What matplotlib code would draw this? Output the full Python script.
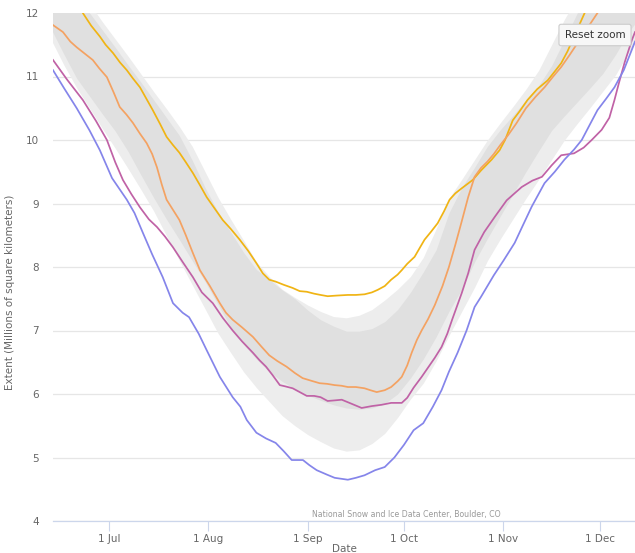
import matplotlib

matplotlib.use("Agg")

import matplotlib.pyplot as plt
from matplotlib.ticker import FixedLocator

# day of year for each point (2019 calendar, no leap day)
band_days = [164, 168, 172, 176, 180, 184, 188, 192, 196, 200, 204, 208, 212,
             216, 220, 224, 228, 232, 236, 240, 244, 248, 252, 256, 260, 264,
             268, 272, 276, 280, 284, 288, 292, 296, 300, 304, 308, 312, 316,
             320, 324, 328, 332, 336, 340, 344, 347]

# interdecile range (outer band)
decile_hi = [12.9, 12.65, 12.4, 12.15, 11.86, 11.59, 11.32, 11.04, 10.76, 10.49,
             10.21, 9.9, 9.5, 9.1, 8.75, 8.42, 8.08, 7.85, 7.65, 7.52, 7.4, 7.3,
             7.22, 7.2, 7.24, 7.33, 7.48, 7.65, 7.85, 8.15, 8.6, 9.08, 9.38, 9.69,
             10.0, 10.27, 10.53, 10.8, 11.1, 11.5, 11.9, 12.25, 12.55, 12.8, 13.0,
             13.2, 13.3]
decile_lo = [11.58, 11.18, 10.82, 10.5, 10.18, 9.87, 9.55, 9.22, 8.88, 8.49, 8.1,
             7.72, 7.34, 6.96, 6.65, 6.35, 6.1, 5.88, 5.66, 5.5, 5.36, 5.25, 5.15,
             5.1, 5.12, 5.22, 5.38, 5.63, 5.92, 6.17, 6.52, 6.92, 7.3, 7.68, 8.1,
             8.44, 8.76, 9.08, 9.38, 9.69, 10.0, 10.26, 10.51, 10.77, 11.03, 11.38,
             11.6]

# interquartile range (inner band)
quart_hi = [12.8, 12.55, 12.28, 12.0, 11.73, 11.46, 11.18, 10.91, 10.63, 10.35,
            10.07, 9.68, 9.25, 8.87, 8.55, 8.23, 7.96, 7.8, 7.64, 7.5, 7.32, 7.17,
            7.07, 6.99, 6.99, 7.03, 7.14, 7.33, 7.6, 7.92, 8.27, 8.85, 9.25, 9.57,
            9.9, 10.16, 10.39, 10.63, 10.86, 11.17, 11.58, 12.0, 12.3, 12.6, 12.85,
            13.05, 13.2]
quart_lo = [11.75, 11.35, 10.97, 10.69, 10.41, 10.14, 9.82, 9.45, 9.09, 8.75, 8.43,
            8.1, 7.77, 7.41, 7.05, 6.78, 6.55, 6.35, 6.2, 6.08, 5.98, 5.9, 5.83,
            5.78, 5.76, 5.78, 5.85, 6.0, 6.25, 6.55, 6.9, 7.3, 7.65, 8.08, 8.45,
            8.8, 9.15, 9.5, 9.83, 10.15, 10.38, 10.6, 10.82, 11.05, 11.35, 11.7,
            11.9]

yellow_days = [164.6, 170, 173.9, 176.5, 179.2, 181, 183.3, 185.5, 187.6, 189.5,
               191.7, 193.7, 195.7, 198, 200, 202, 204, 206, 208.2, 210.5, 212.5,
               215, 217.5, 220, 222.8, 225.5, 228, 230, 232, 234, 236.5, 239.3,
               241.5, 243.7, 246, 248, 250.2, 253, 256.5, 259, 261.7, 264, 265.8,
               268, 270, 272, 273.3, 275, 277.3, 278.9, 280.4, 282.5, 284.5, 286.5,
               288.2, 290, 292, 295.4, 298, 301.3, 303.8, 305.5, 307.9, 310, 312.5,
               315.5, 318.8, 321, 323, 325, 327, 328.7, 330.3, 333]
yellow_vals = [12.7, 12.35, 12.0, 11.8, 11.63, 11.5, 11.37, 11.22, 11.1, 10.97,
               10.83, 10.65, 10.47, 10.25, 10.05, 9.92, 9.8, 9.65, 9.48, 9.28, 9.1,
               8.92, 8.74, 8.6, 8.43, 8.25, 8.06, 7.9, 7.8, 7.77, 7.72, 7.67, 7.62,
               7.61, 7.58, 7.56, 7.54, 7.55, 7.56, 7.56, 7.57, 7.6, 7.64, 7.7, 7.8,
               7.88, 7.95, 8.05, 8.16, 8.3, 8.43, 8.56, 8.69, 8.88, 9.06, 9.16, 9.24,
               9.37, 9.52, 9.69, 9.84, 10.0, 10.31, 10.45, 10.63, 10.8, 10.94, 11.08,
               11.21, 11.4, 11.63, 11.82, 12.0, 12.25]

orange_days = [164.6, 167.7, 170, 172, 174.5, 177, 179, 181.4, 183.5, 185.4, 187.5,
               189.5, 191.7, 193.8, 195.5, 197, 198.5, 200, 202, 204, 206, 208.2,
               210.4, 213.5, 216.6, 218.5, 220.6, 223.5, 226.9, 229.5, 232, 234.5,
               237.4, 240, 242.4, 245, 247.7, 250, 252.4, 254.5, 256.5, 259, 261.7,
               263.5, 265.5, 268, 270, 272, 273.3, 275, 276.4, 278, 279.5, 281.5,
               283.6, 286, 288, 290, 292, 294, 296, 298, 300, 302, 304, 306.5, 309,
               312, 315, 317.8, 320.5, 323, 325.5, 328, 331, 334.3, 337]
orange_vals = [11.81, 11.7, 11.55, 11.46, 11.36, 11.26, 11.13, 10.99, 10.75, 10.52,
               10.4, 10.27, 10.1, 9.95, 9.78, 9.57, 9.3, 9.06, 8.9, 8.74, 8.5, 8.22,
               7.95, 7.7, 7.43, 7.28, 7.17, 7.05, 6.9, 6.75, 6.61, 6.52, 6.43, 6.33,
               6.25, 6.21, 6.17, 6.16, 6.14, 6.13, 6.11, 6.11, 6.09, 6.06, 6.03, 6.06,
               6.11, 6.2, 6.27, 6.45, 6.65, 6.85, 7.0, 7.18, 7.4, 7.7, 8.0, 8.35,
               8.72, 9.1, 9.42, 9.56, 9.66, 9.78, 9.92, 10.08, 10.26, 10.5, 10.68,
               10.83, 11.0, 11.15, 11.33, 11.52, 11.75, 12.0, 12.2]

purple_days = [164.6, 169, 173.9, 178, 181.4, 184, 186.4, 189, 191.7, 194.5, 197,
               199.5, 202, 205, 208.2, 211, 214.4, 217.5, 220.6, 223.5, 226.9, 229,
               231, 233, 235.3, 237, 239.3, 241.5, 243.7, 246, 248, 250.2, 252.5,
               254.6, 257, 260.8, 264, 267, 270, 273.3, 275, 277, 279.5, 283.6,
               285.7, 287.5, 289, 292, 294, 296, 299, 302.3, 306, 310.7, 314, 317,
               320, 323, 327, 330, 332.5, 335.6, 338, 339.6, 341, 342.7, 345, 346]
purple_vals = [11.26, 10.95, 10.63, 10.3, 10.0, 9.65, 9.37, 9.15, 8.94, 8.75, 8.63,
               8.48, 8.31, 8.08, 7.84, 7.6, 7.43, 7.2, 7.0, 6.83, 6.65, 6.53, 6.43,
               6.3, 6.14, 6.12, 6.09, 6.03, 5.97, 5.97, 5.95, 5.89, 5.9, 5.91, 5.86,
               5.78, 5.81, 5.83, 5.86, 5.86, 5.94, 6.1, 6.27, 6.57, 6.74, 6.95, 7.17,
               7.59, 7.9, 8.27, 8.55, 8.79, 9.05, 9.26, 9.36, 9.42, 9.6, 9.76, 9.79,
               9.88, 10.0, 10.16, 10.35, 10.63, 10.9, 11.21, 11.57, 11.7]

blue_days = [164.6, 168, 172, 176, 179.2, 183, 187.6, 190, 192.6, 195.5, 198.8, 202,
             205, 207, 210, 212.5, 216.6, 220.6, 223, 225, 228, 231, 234, 236.5,
             239, 242.5, 244.5, 246.8, 250, 252.4, 256.5, 259, 261.7, 265, 268, 271,
             274, 277, 280, 283, 285.7, 288, 290.7, 293.5, 296, 298, 300, 302, 305,
             308.5, 311, 313.8, 317.8, 321, 324, 327, 329.4, 332, 334.3, 337, 339.6,
             342.5, 345, 346]
blue_vals = [11.1, 10.82, 10.5, 10.15, 9.84, 9.4, 9.06, 8.85, 8.54, 8.2, 7.84, 7.43,
             7.28, 7.21, 6.95, 6.69, 6.27, 5.95, 5.8, 5.59, 5.39, 5.3, 5.23, 5.1,
             4.96, 4.96, 4.88, 4.8, 4.73, 4.68, 4.65, 4.68, 4.72, 4.8, 4.85, 5.0,
             5.2, 5.43, 5.54, 5.8, 6.06, 6.35, 6.65, 7.0, 7.37, 7.53, 7.7, 7.87, 8.1,
             8.38, 8.65, 8.95, 9.32, 9.5, 9.69, 9.85, 10.0, 10.25, 10.47, 10.65,
             10.83, 11.1, 11.42, 11.55]

month_ticks = [182, 213, 244, 274, 305, 335]
month_labels = ["1 Jul", "1 Aug", "1 Sep", "1 Oct", "1 Nov", "1 Dec"]

fig = plt.figure(figsize=(6.35, 5.53), dpi=100)
ax = fig.add_axes([53 / 635, 32 / 553, 582 / 635, 508 / 553])

ax.fill_between(band_days, decile_lo, decile_hi, color="#ededed", lw=0, zorder=1)
ax.fill_between(band_days, quart_lo, quart_hi, color="#e0e0e0", lw=0, zorder=2)

lw = 1.25
ax.plot(yellow_days, yellow_vals, color="#f0b414", lw=lw, zorder=5)
ax.plot(orange_days, orange_vals, color="#f4a262", lw=lw, zorder=5)
ax.plot(purple_days, purple_vals, color="#c062a6", lw=lw, zorder=5)
ax.plot(blue_days, blue_vals, color="#8585ea", lw=lw, zorder=5)

ax.set_xlim(164.6, 346)
ax.set_ylim(4, 12)
ax.set_yticks(range(4, 13))
ax.xaxis.set_major_locator(FixedLocator(month_ticks))
ax.set_xticklabels(month_labels)

ax.grid(axis="y", color="#e6e6e6", lw=0.9, zorder=0)
ax.set_axisbelow(True)
for side in ["top", "right", "left"]:
    ax.spines[side].set_visible(False)
ax.spines["bottom"].set_color("#ccd6eb")
ax.spines["bottom"].set_linewidth(0.9)

ax.tick_params(axis="y", length=0, pad=10, labelsize=7.5, labelcolor="#666666")
ax.tick_params(axis="x", length=7, width=0.8, color="#ccd6eb", pad=2,
               labelsize=7.5, labelcolor="#666666")

ax.set_xlabel("Date", fontsize=7.5, color="#666666", labelpad=0)
ax.set_ylabel("Extent (Millions of square kilometers)", fontsize=7.5,
              color="#666666")
ax.yaxis.set_label_coords(-0.065, 0.45)

fig.text(406 / 635, 1 - 514 / 553, "National Snow and Ice Data Center, Boulder, CO",
         ha="center", va="center", fontsize=5.6, color="#999999")

fig.text(595 / 635, 1 - 35 / 553, "Reset zoom", ha="center", va="center",
         fontsize=7.5, color="#333333",
         bbox=dict(boxstyle="round,pad=0.55,rounding_size=0.2", fc="#f7f7f7",
                   ec="#cccccc", lw=0.8))

fig.savefig("out.png", dpi=100)
